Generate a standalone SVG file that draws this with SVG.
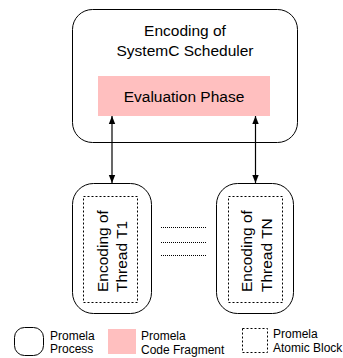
<svg xmlns="http://www.w3.org/2000/svg" width="343" height="358" viewBox="0 0 343 358">
<style>
.proc{fill:#fff;stroke:#000;stroke-width:1}
.frag{fill:#ffbfbf;stroke:none}
.atom{fill:none;stroke:#000;stroke-width:1;stroke-dasharray:2,2}
.dots{stroke:#000;stroke-width:1;stroke-dasharray:1,1}
.edge{stroke:#000;stroke-width:1.2;fill:none}
text{font-family:"Liberation Sans",Arial,sans-serif;fill:#000}
.t15{font-size:15.5px}
.t12{font-size:12px}
</style>
<defs>
<marker id="ah" markerWidth="8" markerHeight="11" refX="10" refY="4" orient="auto-start-reverse" markerUnits="userSpaceOnUse" viewBox="0 0 10 8">
<path d="M0,0 L10,4 L0,8 z" fill="#000"/>
</marker>
</defs>
<g id="scheduler">
<rect class="proc" x="72.5" y="9.5" width="225" height="133" rx="20" ry="20"/>
<text class="t15" x="185" y="36" text-anchor="middle">Encoding of</text>
<text class="t15" x="185" y="56" text-anchor="middle">SystemC Scheduler</text>
</g>
<g id="evaluation">
<rect class="frag" x="98" y="76" width="172" height="40"/>
<text class="t15" x="184" y="101.5" text-anchor="middle">Evaluation Phase</text>
</g>
<g id="thread1">
<rect class="proc" x="72.5" y="183.5" width="79" height="130" rx="21" ry="21"/>
<rect class="atom" x="83.5" y="196.5" width="54" height="106"/>
<text class="t15" transform="translate(108,292) rotate(-90)">Encoding of</text>
<text class="t15" transform="translate(127,292) rotate(-90)">Thread T1</text>
</g>
<g id="threadN">
<rect class="proc" x="216.5" y="183.5" width="77" height="130" rx="21" ry="21"/>
<rect class="atom" x="228.5" y="196.5" width="54" height="106"/>
<text class="t15" transform="translate(252,292) rotate(-90)">Encoding of</text>
<text class="t15" transform="translate(272,292) rotate(-90)">Thread TN</text>
</g>
<g id="ellipsis">
<line class="dots" x1="161" y1="227.5" x2="207" y2="227.5"/>
<line class="dots" x1="161" y1="242.5" x2="207" y2="242.5"/>
<line class="dots" x1="161" y1="255.5" x2="207" y2="255.5"/>
</g>
<g id="connectors">
<line class="edge" x1="112" y1="116" x2="112" y2="183" marker-start="url(#ah)" marker-end="url(#ah)"/>
<line class="edge" x1="255.5" y1="116" x2="255.5" y2="183" marker-start="url(#ah)" marker-end="url(#ah)"/>
</g>
<g id="legend">
<rect class="proc" x="14.5" y="327.5" width="29" height="28" rx="10" ry="10"/>
<text class="t12" x="50" y="340">Promela</text>
<text class="t12" x="50" y="353">Process</text>
<rect class="frag" x="108" y="329" width="28" height="25"/>
<text class="t12" x="141" y="340">Promela</text>
<text class="t12" x="141" y="354">Code Fragment</text>
<rect class="atom" x="242.5" y="328.5" width="25" height="24"/>
<text class="t12" x="273" y="338">Promela</text>
<text class="t12" x="273" y="352">Atomic Block</text>
</g>
</svg>
